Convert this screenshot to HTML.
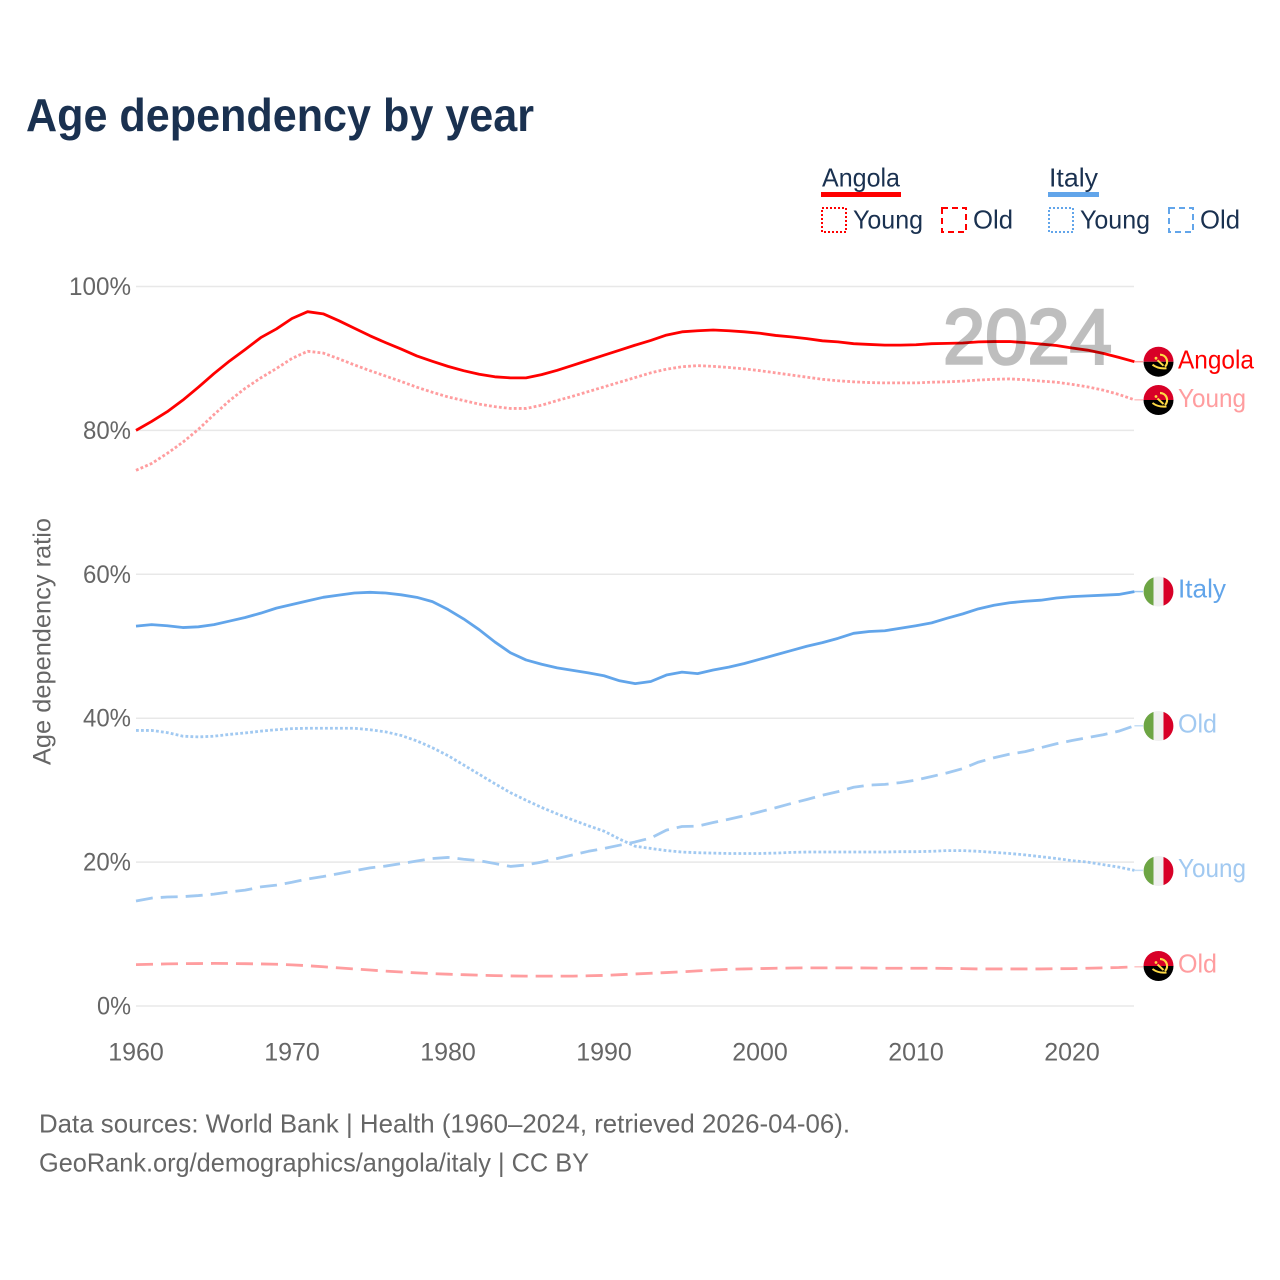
<!DOCTYPE html>
<html lang="en">
<head>
<meta charset="utf-8">
<title>Age dependency by year</title>
<style>
html,body{margin:0;padding:0;background:#fff;}
svg{display:block;font-family:"Liberation Sans",sans-serif;}
</style>
</head>
<body>
<svg id="chart" width="1280" height="1280" viewBox="0 0 1280 1280" xmlns="http://www.w3.org/2000/svg">
  <rect width="1280" height="1280" fill="#fff"/>
  <text x="26" y="131" font-size="46" font-weight="700" fill="#1a3150" textLength="508" lengthAdjust="spacingAndGlyphs">Age dependency by year</text>

  <g font-size="26" fill="#1a3150">
    <text x="822" y="186.5" textLength="78" lengthAdjust="spacingAndGlyphs">Angola</text>
    <rect x="821" y="192" width="80" height="5" fill="#ff0000"/>
    <rect x="822" y="208" width="24" height="24" fill="none" stroke="#ff0000" stroke-width="2" stroke-dasharray="2 2"/>
    <text x="853" y="228.5" textLength="70" lengthAdjust="spacingAndGlyphs">Young</text>
    <rect x="942" y="208" width="24" height="24" fill="none" stroke="#ff0000" stroke-width="2" stroke-dasharray="6 4"/>
    <text x="973" y="228.5" textLength="40" lengthAdjust="spacingAndGlyphs">Old</text>

    <text x="1049" y="186.5" textLength="49" lengthAdjust="spacingAndGlyphs">Italy</text>
    <rect x="1048" y="192" width="51" height="5" fill="#62a5ea"/>
    <rect x="1049" y="208" width="24" height="24" fill="none" stroke="#62a5ea" stroke-width="2" stroke-dasharray="2 2"/>
    <text x="1080" y="228.5" textLength="70" lengthAdjust="spacingAndGlyphs">Young</text>
    <rect x="1169" y="208" width="24" height="24" fill="none" stroke="#62a5ea" stroke-width="2" stroke-dasharray="6 4"/>
    <text x="1200" y="228.5" textLength="40" lengthAdjust="spacingAndGlyphs">Old</text>
  </g>

  <g id="grid"></g>
  <g id="y-ticks" font-size="25" fill="#666"></g>
  <g id="x-ticks" font-size="25" fill="#666"></g>
  <text transform="translate(50.5 765) rotate(-90)" font-size="25" fill="#666" textLength="247" lengthAdjust="spacingAndGlyphs">Age dependency ratio</text>

  <g id="series"></g>

  <g opacity="0.25">
    <text x="943" y="363.5" font-size="78" fill="#000" stroke="#000" stroke-width="2.6" textLength="169" lengthAdjust="spacingAndGlyphs">2024</text>
  </g>

  <g id="end-labels" font-size="26"></g>

  <g font-size="26" fill="#666">
    <text x="39" y="1132.5" textLength="811" lengthAdjust="spacingAndGlyphs">Data sources: World Bank | Health (1960–2024, retrieved 2026-04-06).</text>
    <text x="39" y="1171.5" textLength="550" lengthAdjust="spacingAndGlyphs">GeoRank.org/demographics/angola/italy | CC BY</text>
  </g>
</svg>
<script>
const startYear = 1960;
const xTickYears = [1960, 1970, 1980, 1990, 2000, 2010, 2020];
const yTickValues = [0, 20, 40, 60, 80, 100];

const angolaTotal = [
  80.0,81.25,82.6,84.2,86.0,87.9,89.65,91.25,92.9,94.1,
  95.55,96.5,96.2,95.25,94.2,93.15,92.2,91.3,90.35,89.6,
  88.9,88.3,87.8,87.45,87.3,87.3,87.75,88.35,89.05,89.75,
  90.45,91.15,91.85,92.5,93.25,93.7,93.85,93.95,93.85,93.7,
  93.5,93.2,93.0,92.75,92.45,92.3,92.05,91.95,91.85,91.85,
  91.9,92.05,92.1,92.15,92.3,92.35,92.35,92.2,92.0,91.8,
  91.45,91.15,90.7,90.15,89.55
];
const angolaYoung = [
  74.45,75.4,76.8,78.35,80.15,82.2,84.15,85.85,87.3,88.6,
  90.0,91.0,90.75,89.95,89.1,88.3,87.55,86.8,86.0,85.3,
  84.65,84.15,83.65,83.3,83.05,83.05,83.5,84.15,84.75,85.4,
  86.05,86.7,87.35,88.0,88.5,88.85,89.0,88.9,88.75,88.55,
  88.3,88.0,87.7,87.4,87.1,86.9,86.75,86.65,86.6,86.6,
  86.6,86.7,86.75,86.85,87.0,87.1,87.15,87.05,86.85,86.7,
  86.4,86.05,85.6,85.0,84.25
];
const angolaOld = [
  5.75,5.8,5.85,5.88,5.9,5.92,5.9,5.88,5.85,5.8,
  5.72,5.6,5.45,5.3,5.15,5.0,4.85,4.72,4.6,4.5,
  4.42,4.35,4.28,4.22,4.18,4.15,4.15,4.15,4.15,4.2,
  4.25,4.35,4.45,4.55,4.65,4.75,4.88,5.0,5.1,5.15,
  5.2,5.25,5.28,5.3,5.3,5.3,5.3,5.28,5.25,5.25,
  5.25,5.25,5.22,5.2,5.15,5.15,5.15,5.15,5.15,5.18,
  5.2,5.25,5.3,5.35,5.45
];
const italyTotal = [
  52.8,53.0,52.85,52.6,52.7,53.0,53.5,54.0,54.6,55.3,
  55.8,56.3,56.8,57.1,57.4,57.5,57.4,57.15,56.8,56.2,
  55.1,53.8,52.3,50.6,49.1,48.1,47.5,47.0,46.65,46.3,
  45.9,45.2,44.8,45.1,46.0,46.4,46.2,46.7,47.1,47.6,
  48.2,48.8,49.4,50.0,50.5,51.1,51.8,52.05,52.15,52.5,
  52.85,53.25,53.9,54.5,55.2,55.7,56.05,56.25,56.4,56.7,
  56.9,57.0,57.1,57.2,57.6
];
const italyYoung = [
  38.3,38.3,38.0,37.5,37.4,37.5,37.75,37.95,38.2,38.4,
  38.55,38.6,38.6,38.6,38.6,38.4,38.1,37.6,36.85,35.9,
  34.8,33.5,32.2,30.9,29.65,28.6,27.6,26.7,25.85,25.05,
  24.3,23.2,22.2,21.9,21.6,21.4,21.3,21.25,21.2,21.2,
  21.2,21.25,21.35,21.4,21.4,21.4,21.4,21.4,21.4,21.45,
  21.45,21.5,21.6,21.6,21.5,21.35,21.2,21.0,20.75,20.5,
  20.2,20.0,19.65,19.3,18.85
];
const italyOld = [
  14.6,15.0,15.15,15.2,15.35,15.55,15.85,16.1,16.55,16.8,
  17.2,17.65,18.0,18.4,18.8,19.2,19.45,19.8,20.15,20.5,
  20.65,20.4,20.2,19.8,19.4,19.6,20.0,20.5,21.0,21.5,
  21.9,22.35,22.8,23.35,24.45,24.95,25.0,25.5,25.95,26.45,
  27.0,27.55,28.15,28.7,29.3,29.8,30.4,30.7,30.8,31.05,
  31.4,31.9,32.4,33.0,33.9,34.5,35.0,35.35,35.9,36.45,
  36.9,37.3,37.7,38.2,38.95
];

const NS = 'http://www.w3.org/2000/svg';
function x(year) { return 136 + (year - 1960) * 15.6; }
function y(value) { return 1006 - value * 7.195; }
function make(tag, attrs, parent) {
  const el = document.createElementNS(NS, tag);
  for (const k in attrs) el.setAttribute(k, attrs[k]);
  parent.appendChild(el);
  return el;
}
const gridGroup = document.getElementById('grid');
const yGroup = document.getElementById('y-ticks');
const xGroup = document.getElementById('x-ticks');
const seriesGroup = document.getElementById('series');
const labelGroup = document.getElementById('end-labels');

yTickValues.forEach(function (v) {
  const line = make('line', {x1: 136, x2: 1134, y1: y(v), y2: y(v), stroke: '#e8e8e8', 'stroke-width': 1.5}, gridGroup);
  
  
  const t = make('text', {x: 131, y: y(v) + 8.5, 'text-anchor': 'end', textLength: v === 100 ? 62 : v === 0 ? 34 : 48, lengthAdjust: 'spacingAndGlyphs'}, yGroup);
  
  
  t.textContent = v + '%';
});
xTickYears.forEach(function (yr) {
  const t = make('text', {x: x(yr), y: 1060.5, 'text-anchor': 'middle'}, xGroup);
  
  
  t.textContent = String(yr);
});

function drawSeries(name, values, color, dash) {
  const d = values.map(function (v, i) {
    return (i ? 'L' : 'M') + x(startYear + i).toFixed(2) + ' ' + y(v).toFixed(2);
  }).join(' ');
  const attrs = {d: d, fill: 'none', stroke: color, 'stroke-width': 2.8, 'stroke-linejoin': 'round'};
  if (dash) attrs['stroke-dasharray'] = dash;
  const p = make('path', attrs, seriesGroup);
  
  
}
const redLight = '#ff9d9f', blueLight = '#a1c9f1';
drawSeries('italy-old', italyOld, blueLight, '17 8');
drawSeries('italy-young', italyYoung, blueLight, '2.8 2.2');
drawSeries('italy-total', italyTotal, '#62a5ea', '');
drawSeries('angola-old', angolaOld, redLight, '17 8');
drawSeries('angola-young', angolaYoung, redLight, '2.8 2.2');
drawSeries('angola-total', angolaTotal, '#ff0000', '');

function drawFlag(kind, cy, parent) {
  const g = make('g', {transform: 'translate(1158.5 ' + cy + ')'}, parent);
  
  
  if (kind === 'angola') {
    make('path', {d: 'M-15 0A15 15 0 0 1 15 0Z', fill: '#d80027'}, g);
    make('path', {d: 'M-15 0A15 15 0 0 0 15 0Z', fill: '#000'}, g);
    make('path', {d: 'M1.5 -7A7 7 0 0 1 6.5 5', fill: 'none', stroke: '#ffda44', 'stroke-width': 2.2}, g);
    make('path', {d: 'M-6 3Q0 7.5 8 6.5', fill: 'none', stroke: '#ffda44', 'stroke-width': 2}, g);
    make('path', {d: 'M-1 -1.5L5 4', fill: 'none', stroke: '#ffda44', 'stroke-width': 2}, g);
    make('circle', {cx: -2.5, cy: -3.5, r: 1.4, fill: '#ffda44'}, g);
  } else {
    make('circle', {cx: 0, cy: 0, r: 15, fill: '#f0f0f0'}, g);
    make('path', {d: 'M-5 -14.1A15 15 0 0 0 -5 14.1Z', fill: '#6da544'}, g);
    make('path', {d: 'M5 -14.1A15 15 0 0 1 5 14.1Z', fill: '#d80027'}, g);
  }
}
function drawEnd(name, kind, text, color, connectorColor, endValue, flagY, baseline) {
  const c = make('line', {x1: x(2024), x2: 1143, y1: y(endValue), y2: y(endValue), stroke: connectorColor, 'stroke-width': 1.5}, labelGroup);
  
  
  drawFlag(kind, flagY, labelGroup);
  const t = make('text', {x: 1178, y: baseline, fill: color}, labelGroup);
  
  
  t.setAttribute('textLength', text === 'Angola' ? 76 : text === 'Young' ? 68 : text === 'Italy' ? 48 : 39);
  t.setAttribute('lengthAdjust', 'spacingAndGlyphs');
  t.textContent = text;
}
drawEnd('angola-total', 'angola', 'Angola', '#ff0000', '#ff9d9f', angolaTotal[64], 361.7, 368.5);
drawEnd('angola-young', 'angola', 'Young', redLight, '#ffc4c5', angolaYoung[64], 400, 407);
drawEnd('italy-total', 'italy', 'Italy', '#62a5ea', '#a1c9f1', italyTotal[64], 591.5, 597.5);
drawEnd('italy-old', 'italy', 'Old', blueLight, '#c6dff6', italyOld[64], 726, 732.5);
drawEnd('italy-young', 'italy', 'Young', blueLight, '#c6dff6', italyYoung[64], 871, 877);
drawEnd('angola-old', 'angola', 'Old', redLight, '#ffc4c5', angolaOld[64], 966, 972.5);
</script>
</body>
</html>
